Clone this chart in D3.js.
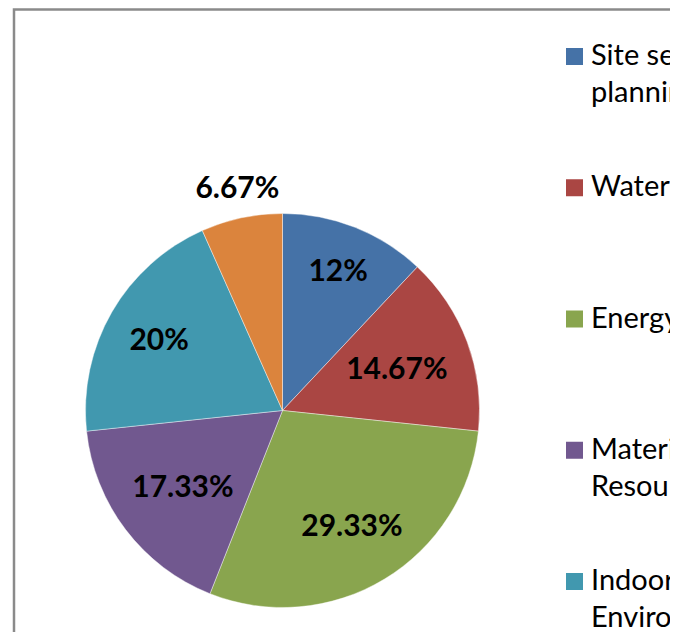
<!DOCTYPE html>
<html>
<head>
<meta charset="utf-8">
<script src="https://cdn.jsdelivr.net/npm/d3@7"></script>
<style>
  html, body { margin: 0; padding: 0; background: #fff; }
  svg { display: block; }
</style>
</head>
<body>
<script>
// ---- data ----
const categories = [
  "Site selection and\nplanning",
  "Water efficiency",
  "Energy efficiency",
  "Materials and\nResources",
  "Indoor\nEnvironmental Quality",
  "Innovation and\nDesign"
];
const values = [12, 14.67, 29.33, 17.33, 20, 6.67];
const labels = ["12%", "14.67%", "29.33%", "17.33%", "20%", "6.67%"];
const colors = ["#4572A7", "#AA4643", "#89A54E", "#71588F", "#4198AF", "#DB843D"];

// ---- layout ----
const W = 689, H = 632;
const cx = 282.5, cy = 410.5, R = 197;

const svg = d3.select("body").append("svg").attr("width", W).attr("height", H);
svg.append("defs").append("clipPath").attr("id", "clipAll")
  .append("rect").attr("x", 0).attr("y", 0).attr("width", 670).attr("height", H);
const root = svg.append("g").attr("clip-path", "url(#clipAll)");

// frame
root.append("rect")
  .attr("x", 14).attr("y", 9.5).attr("width", 900).attr("height", 900)
  .attr("fill", "#fff").attr("stroke", "#8a8a8a").attr("stroke-width", 2.5);

const data = values.map((v, i) => ({ v, i }));
const pie = d3.pie().value(d => d.v).sort(null).startAngle(0).endAngle(2 * Math.PI);
const arcs = pie(data);
const arc = d3.arc().innerRadius(0).outerRadius(R);

const g = root.append("g").attr("transform", `translate(${cx},${cy})`);
g.selectAll("path.slice").data(arcs).join("path")
  .attr("class", "slice")
  .attr("d", arc)
  .attr("fill", d => colors[d.data.i])
  .attr("stroke", "#ffffff").attr("stroke-width", 0.6).attr("stroke-opacity", 0.7);

// data labels
const fontLab = "bold 30px Lato, 'Open Sans', sans-serif";
const lab = g.selectAll("text.lab").data(arcs).join("text")
  .attr("class", "lab")
  .style("font", fontLab)
  .attr("fill", "#000")
  .attr("text-anchor", "middle")
  .text(d => labels[d.data.i]);

lab.each(function(d) {
  const t = d3.select(this);
  const bb = this.getBBox();
  const w = bb.width, h = 22;
  const mid = (d.startAngle + d.endAngle) / 2;
  const ux = Math.sin(mid), uy = -Math.cos(mid);
  const frac = (d.endAngle - d.startAngle) / (2 * Math.PI);
  if (frac < 0.08) {
    // outside label
    const r = R + 20;
    const px = ux * r, py = uy * r;
    t.attr("x", px).attr("y", py);
  } else {
    // inside: push outward until the far corner of the box reaches ~0.88R
    const limit = 0.88 * R;
    let r = 40;
    for (; r < R; r += 0.5) {
      const fx = Math.abs(ux * r) + w / 2, fy = Math.abs(uy * r) + h / 2;
      if (Math.hypot(fx, fy) >= limit) break;
    }
    t.attr("x", ux * r).attr("y", uy * r + h / 2);
  }
});

// legend
const legFont = "29px Lato, 'Open Sans', sans-serif";
const legY = d3.scaleLinear().domain([0, 1]).range([48, 179.25]);
const leg = root.append("g");
const item = leg.selectAll("g.item").data(categories).join("g")
  .attr("class", "item")
  .attr("transform", (d, i) => `translate(566,${legY(i)})`);
item.append("rect")
  .attr("width", 17).attr("height", 17)
  .attr("fill", (d, i) => colors[i]);
item.append("text")
  .style("font", legFont).attr("fill", "#000")
  .attr("x", 25).attr("y", 17)
  .selectAll("tspan").data(d => d.split("\n")).join("tspan")
  .attr("x", 25).attr("dy", (d, j) => j === 0 ? 0 : 37)
  .text(d => d);
</script>
</body>
</html>
